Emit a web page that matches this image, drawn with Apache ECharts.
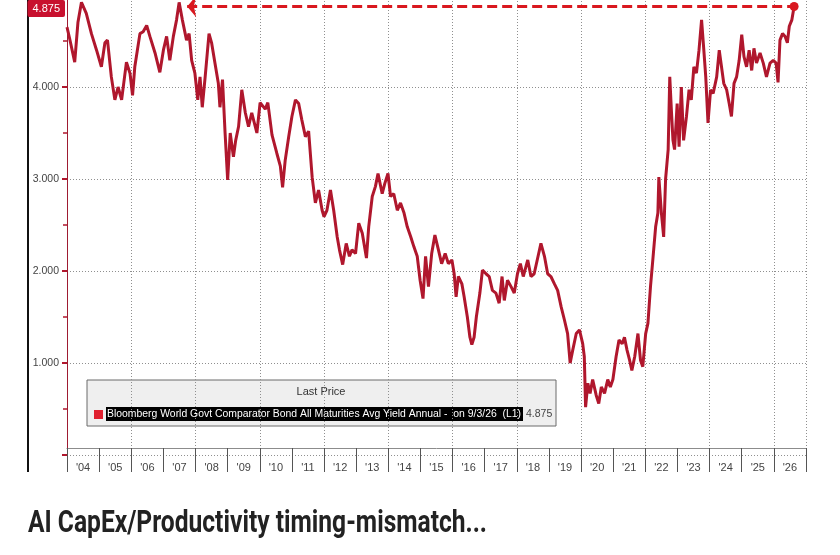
<!DOCTYPE html>
<html>
<head>
<meta charset="utf-8">
<script src="https://cdn.jsdelivr.net/npm/echarts@6/dist/echarts.min.js"></script>
<style>
html, body { margin: 0; padding: 0; background: #fff; }
#chart { width: 840px; height: 555px; }
</style>
</head>
<body>
<div id="chart"></div>
<script>
// ---------- DATA ----------

const yearLabels = ["'04", "'05", "'06", "'07", "'08", "'09", "'10", "'11", "'12", "'13", "'14", "'15",
	"'16", "'17", "'18", "'19", "'20", "'21", "'22", "'23", "'24", "'25", "'26"];

// position in years (decimal)
const yearPos = [
	2004.00, 2004.08, 2004.24, 2004.34, 2004.45, 2004.60, 2004.76, 2004.92,
	2005.07, 2005.18, 2005.26, 2005.38, 2005.49, 2005.59, 2005.70, 2005.85, 2005.96,
	2006.04, 2006.11, 2006.27, 2006.37, 2006.48, 2006.58, 2006.74, 2006.89,
	2007.00, 2007.10, 2007.20, 2007.31, 2007.41, 2007.49, 2007.59, 2007.72, 2007.80, 2007.88, 2007.98,
	2008.07, 2008.14, 2008.21, 2008.30, 2008.42, 2008.50, 2008.59, 2008.71, 2008.76, 2008.84, 2008.92,
	2009.00, 2009.08, 2009.18, 2009.25, 2009.34, 2009.44, 2009.55, 2009.65, 2009.75, 2009.91,
	2010.01, 2010.17, 2010.25, 2010.38, 2010.53, 2010.64, 2010.71, 2010.79, 2010.90,
	2011.00, 2011.11, 2011.21, 2011.31, 2011.42, 2011.52, 2011.63, 2011.73, 2011.83, 2011.94,
	2012.00, 2012.09, 2012.20, 2012.30, 2012.41, 2012.48, 2012.58, 2012.69, 2012.79, 2012.87, 2012.98,
	2013.08, 2013.19, 2013.32, 2013.39, 2013.50, 2013.60, 2013.68, 2013.81, 2013.89, 2013.99,
	2014.07, 2014.17, 2014.28, 2014.38, 2014.49, 2014.59, 2014.70, 2014.80, 2014.90, 2014.99,
	2015.08, 2015.16, 2015.25, 2015.35, 2015.45, 2015.56, 2015.66, 2015.77, 2015.87, 2015.98,
	2016.05, 2016.11, 2016.18, 2016.29, 2016.36, 2016.46, 2016.54, 2016.60, 2016.67, 2016.74, 2016.85, 2016.93,
	2017.04, 2017.14, 2017.24, 2017.35, 2017.45, 2017.54, 2017.61, 2017.71, 2017.82, 2017.92,
	2018.02, 2018.11, 2018.20, 2018.34, 2018.44, 2018.54, 2018.68, 2018.75, 2018.86, 2018.96,
	2019.06, 2019.17, 2019.27, 2019.38, 2019.48, 2019.58, 2019.66, 2019.74, 2019.85, 2019.95,
	2020.05, 2020.10, 2020.14, 2020.21, 2020.28, 2020.36, 2020.47, 2020.55, 2020.63, 2020.73, 2020.83, 2020.91, 2020.99,
	2021.09, 2021.18, 2021.28, 2021.35, 2021.43, 2021.51, 2021.58, 2021.67, 2021.77, 2021.85, 2021.92,
	2022.01, 2022.08, 2022.13, 2022.16, 2022.24, 2022.32, 2022.39, 2022.42, 2022.50, 2022.57, 2022.63,
	2022.71, 2022.76, 2022.81, 2022.86, 2022.91, 2022.99,
	2023.05, 2023.12, 2023.19, 2023.28, 2023.36, 2023.43, 2023.51, 2023.59, 2023.67, 2023.75, 2023.82, 2023.88, 2023.95,
	2024.03, 2024.11, 2024.22, 2024.30, 2024.37, 2024.44, 2024.53, 2024.61, 2024.68, 2024.76, 2024.84, 2024.92,
	2025.00, 2025.07, 2025.15, 2025.23, 2025.31, 2025.38, 2025.46, 2025.57, 2025.67, 2025.77, 2025.88, 2025.98,
	2026.07, 2026.13, 2026.19, 2026.27, 2026.35, 2026.42, 2026.48, 2026.56, 2026.63
];

// avg yield (%)
const yieldPct = [
	4.65, 4.53, 4.27, 4.70, 4.92, 4.80, 4.58, 4.40,
	4.22, 4.48, 4.51, 4.11, 3.86, 4.00, 3.86, 4.27, 4.15,
	3.91, 4.22, 4.58, 4.60, 4.67, 4.55, 4.37, 4.16,
	4.40, 4.55, 4.29, 4.55, 4.73, 4.92, 4.73, 4.51, 4.58, 4.29, 4.15,
	3.86, 4.11, 3.78, 4.11, 4.58, 4.48, 4.29, 4.04, 3.78, 4.08, 3.50,
	2.99, 3.50, 3.24, 3.42, 3.57, 3.97, 3.72, 3.57, 3.72, 3.50,
	3.83, 3.76, 3.83, 3.48, 3.28, 3.14, 2.91, 3.20, 3.46,
	3.68, 3.86, 3.82, 3.64, 3.46, 3.52, 3.02, 2.74, 2.88, 2.66,
	2.59, 2.66, 2.88, 2.66, 2.37, 2.23, 2.07, 2.30, 2.16, 2.23, 2.19,
	2.52, 2.41, 2.14, 2.48, 2.81, 2.92, 3.06, 2.84, 2.95, 3.06,
	2.81, 2.84, 2.66, 2.74, 2.63, 2.48, 2.37, 2.26, 2.16, 1.90,
	1.70, 2.16, 1.83, 2.19, 2.39, 2.23, 2.08, 2.19, 2.08, 2.12,
	1.97, 1.72, 1.94, 1.86, 1.72, 1.50, 1.28, 1.20, 1.28, 1.50, 1.76, 2.01,
	1.97, 1.94, 1.79, 1.76, 1.65, 1.94, 1.68, 1.90, 1.83, 1.76,
	1.97, 2.08, 1.94, 2.12, 1.94, 1.97, 2.19, 2.30, 2.16, 1.97,
	1.94, 1.86, 1.79, 1.61, 1.47, 1.32, 1.00, 1.14, 1.32, 1.36,
	1.21, 1.07, 0.52, 0.78, 0.67, 0.82, 0.65, 0.56, 0.74, 0.67, 0.82, 0.74, 0.82,
	1.07, 1.25, 1.21, 1.28, 1.14, 1.03, 0.92, 1.07, 1.32, 1.03, 0.96,
	1.32, 1.43, 1.68, 1.83, 2.15, 2.48, 2.63, 3.02, 2.63, 2.37, 3.00,
	3.32, 4.11, 3.75, 3.42, 3.32, 3.82,
	3.35, 4.00, 3.42, 3.68, 3.97, 3.86, 4.22, 4.15, 4.40, 4.73, 4.40, 4.11, 3.61,
	3.97, 3.93, 4.11, 4.40, 4.22, 4.04, 3.97, 3.82, 3.68, 4.04, 4.11, 4.29,
	4.57, 4.33, 4.22, 4.40, 4.18, 4.42, 4.26, 4.37, 4.26, 4.11, 4.26, 4.29,
	4.26, 4.05, 4.51, 4.58, 4.55, 4.48, 4.66, 4.73, 4.875
];

const seriesName = 'Bloomberg World Govt Comparator Bond All Maturities Avg Yield Annual -  on 9/3/26  (L1)';
const chartTitle = 'AI CapEx/Productivity timing-mismatch...';


// ---------- CHART ----------

const lineRed = '#b0172d';
const gridGrey = '#8f8f8f';

let points = yearPos.map((x, i) => [x, yieldPct[i]]);
let lastPt = points[points.length - 1];
// 2007 high, the arrow points back to it
let peak07 = points.filter(p => p[0] >= 2007 && p[0] < 2008).reduce((a, b) => (b[1] > a[1] ? b : a));

// squeeze the condensed-looking title to its width in the picture
function measure(text, font) {
	const ctx = document.createElement('canvas').getContext('2d');
	ctx.font = font;
	return ctx.measureText(text).width;
}
const titleFont = 'bold 31px Roboto';
const titleScale = 459 / measure(chartTitle, titleFont);
const legendFont = '10px Liberation Sans';
const legendScale = 414 / measure(seriesName, legendFont);

let myChart = echarts.init(document.getElementById('chart'));

let option = {
	animation: false,
	backgroundColor: '#fff',
	axisPointer: {
		triggerOn: 'none'
	},
	grid: {
		left: 67,
		right: 34,
		top: -5,
		bottom: 100,
		containLabel: false,
		outerBoundsMode: 'none'
	},
	xAxis: [
		{
			type: 'value',
			min: 2004,
			max: 2027,
			interval: 2,
			axisLine: { show: false },
			axisTick: { show: false },
			axisLabel: { show: false },
			splitLine: {
				show: true,
				lineStyle: { color: gridGrey, type: [1, 2], width: 1 }
			}
		},
		{
			type: 'category',
			data: yearLabels,
			boundaryGap: true,
			position: 'bottom',
			offset: -7,
			axisLine: { lineStyle: { color: '#8c8c8c' } },
			axisTick: {
				show: true,
				interval: 0,
				length: 24,
				lineStyle: { color: '#555', width: 1 }
			},
			axisLabel: {
				interval: 0,
				margin: 14,
				color: '#444',
				fontSize: 11,
				fontFamily: 'Liberation Sans'
			},
			splitLine: { show: false }
		}
	],
	yAxis: {
		type: 'value',
		min: 0,
		max: 5,
		interval: 1,
		axisLine: { show: true, lineStyle: { color: '#9e1b32', width: 1 } },
		axisTick: { show: true, length: 5, lineStyle: { color: lineRed, width: 2 } },
		minorTick: { show: true, splitNumber: 2, length: 4, lineStyle: { color: lineRed, width: 1.5 } },
		axisLabel: {
			formatter: v => v.toFixed(3),
			showMinLabel: false,
			color: '#444',
			fontSize: 10.5,
			margin: 8,
			fontFamily: 'Liberation Sans'
		},
		splitLine: {
			lineStyle: { color: gridGrey, type: [1, 2], width: 1 }
		},
		axisPointer: {
			show: true,
			status: 'show',
			value: lastPt[1],
			triggerTooltip: false,
			type: 'line',
			lineStyle: { opacity: 0 },
			label: {
				show: true,
				formatter: p => Number(p.value).toFixed(3),
				backgroundColor: '#c8102e',
				color: '#fff',
				fontSize: 11,
				fontFamily: 'Liberation Sans',
				padding: [3, 5, 3, 5],
				borderRadius: 2,
				margin: 2
			}
		}
	},
	series: [
		{
			name: seriesName,
			type: 'line',
			xAxisIndex: 0,
			data: points,
			symbol: 'none',
			lineStyle: { color: lineRed, width: 3 },
			z: 3,
			markLine: {
				silent: true,
				symbol: ['arrow', 'circle'],
				symbolSize: [16, 9],
				label: { show: false },
				lineStyle: { color: '#d9181f', type: [10, 5], width: 3 },
				itemStyle: { color: '#d9181f' },
				data: [
					[
						{ coord: [peak07[0] + 0.25, lastPt[1]] },
						{ coord: [lastPt[0], lastPt[1]] }
					]
				]
			}
		}
	],
	graphic: [
		// black frame line on the left
		{
			type: 'line',
			shape: { x1: 28, y1: 0, x2: 28, y2: 472 },
			style: { stroke: '#111', lineWidth: 2 }
		},
		// white strip below the year labels
		{
			type: 'rect',
			shape: { x: 29, y: 473, width: 811, height: 82 },
			style: { fill: '#fff' },
			z: 50
		},
		// legend box
		{
			type: 'group',
			x: 87,
			y: 380,
			z: 60,
			children: [
				{
					type: 'rect',
					shape: { x: 0, y: 0, width: 469, height: 46 },
					style: { fill: '#efefef', stroke: '#6b6b6b', lineWidth: 1 }
				},
				{
					type: 'text',
					x: 234,
					y: 12,
					style: {
						text: 'Last Price',
						fill: '#333',
						font: '11px Liberation Sans',
						textAlign: 'center',
						textVerticalAlign: 'middle'
					}
				},
				{
					type: 'rect',
					shape: { x: 7, y: 30, width: 9, height: 9 },
					style: { fill: '#e0202f' }
				},
				{
					type: 'rect',
					shape: { x: 19, y: 27, width: 417, height: 14 },
					style: { fill: '#000' }
				},
				{
					type: 'text',
					x: 20,
					y: 34,
					scaleX: legendScale,
					style: {
						text: seriesName,
						fill: '#fff',
						font: legendFont,
						textVerticalAlign: 'middle'
					}
				},
				{
					type: 'text',
					x: 439,
					y: 34,
					style: {
						text: lastPt[1].toFixed(3),
						fill: '#444',
						font: '10.5px Liberation Sans',
						textVerticalAlign: 'middle'
					}
				}
			]
		},
		// headline under the chart
		{
			type: 'text',
			x: 28,
			y: 524,
			scaleX: titleScale,
			z: 60,
			style: {
				text: chartTitle,
				font: titleFont,
				fill: '#222',
				textVerticalAlign: 'middle'
			}
		}
	]
};

myChart.setOption(option);
</script>
</body>
</html>
